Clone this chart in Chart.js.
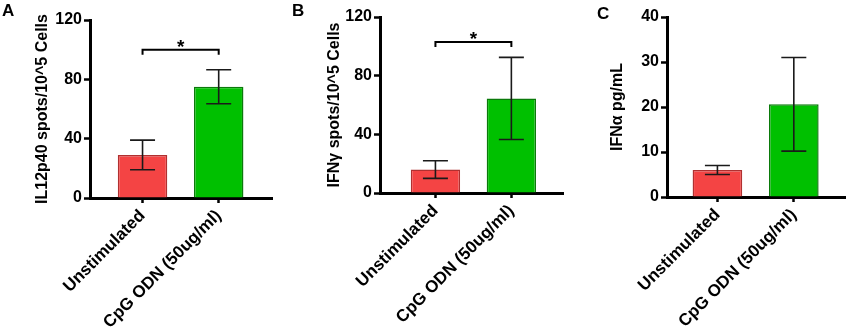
<!DOCTYPE html>
<html>
<head>
<meta charset="utf-8">
<script src="https://cdn.jsdelivr.net/npm/chart.js@4.4.1/dist/chart.umd.min.js"></script>
<style>
  html, body { margin:0; padding:0; background:#fff; }
  body { width:850px; height:332px; position:relative; overflow:hidden; font-family:"Liberation Sans", Arial, sans-serif; }
  .panel { position:absolute; top:0; }
  .letter { position:absolute; font-weight:bold; font-size:17px; color:#000; }
</style>
</head>
<body>
<div class="panel" style="left:0"><canvas id="chartA" width="285" height="332"></canvas></div>
<div class="panel" style="left:290px"><canvas id="chartB" width="280" height="332"></canvas></div>
<div class="panel" style="left:570px"><canvas id="chartC" width="280" height="332"></canvas></div>
<div class="letter" style="left:2px;top:1px">A</div>
<div class="letter" style="left:292px;top:1px">B</div>
<div class="letter" style="left:597px;top:4px">C</div>
<script>
// shared categories
const categories = ['Unstimulated', 'CpG ODN (50ug/ml)'];

// panel A - IL12p40
const il12Means = [29, 75];
const il12Errors = [10, 11.5];
const il12Max = 120, il12Step = 40, il12Bracket = 100;

// panel B - IFNg
const ifngMeans = [16, 64.5];
const ifngErrors = [6, 28];
const ifngMax = 120, ifngStep = 40, ifngBracket = 103;

// panel C - IFNa
const ifnaMeans = [6, 20.6];
const ifnaErrors = [1, 10.4];
const ifnaMax = 40, ifnaStep = 10;

const FONT = '"Liberation Sans", Arial, sans-serif';

// error bars + significance bracket, all through the chart's own scales
const extras = {
  id: 'extras',
  afterDatasetsDraw(chart, args, opts) {
    const ctx = chart.ctx, y = chart.scales.y;
    const bars = chart.getDatasetMeta(0).data;
    ctx.save();
    ctx.strokeStyle = '#1a1a1a';
    ctx.lineWidth = 1.6;
    bars.forEach((b, i) => {
      const m = opts.means[i], e = opts.errors[i];
      const top = y.getPixelForValue(m + e), bot = y.getPixelForValue(m - e);
      ctx.beginPath();
      ctx.moveTo(b.x, top); ctx.lineTo(b.x, bot);
      ctx.moveTo(b.x - 12.5, top); ctx.lineTo(b.x + 12.5, top);
      ctx.moveTo(b.x - 12.5, bot); ctx.lineTo(b.x + 12.5, bot);
      ctx.stroke();
    });
    if (opts.bracket != null) {
      const by = y.getPixelForValue(opts.bracket);
      const x0 = bars[0].x, x1 = bars[1].x;
      ctx.lineWidth = 2;
      ctx.strokeStyle = '#000';
      ctx.beginPath();
      ctx.moveTo(x0, by + 5); ctx.lineTo(x0, by); ctx.lineTo(x1, by); ctx.lineTo(x1, by + 5);
      ctx.stroke();
      ctx.fillStyle = '#000';
      ctx.font = 'bold 19px ' + FONT;
      ctx.textAlign = 'center';
      ctx.textBaseline = 'alphabetic';
      ctx.fillText('*', (x0 + x1) / 2, by + 3);
    }
    ctx.restore();
  }
};

function makeChart(id, cfg) {
  return new Chart(document.getElementById(id), {
    type: 'bar',
    data: {
      datasets: [{
        data: cfg.means.map((v, i) => ({ x: i, y: v })),
        backgroundColor: ['#f44444', '#00c000'],
        borderColor: ['#b03030', '#0a7a0a'],
        borderWidth: 1.5,
        barPercentage: 0.65,
        categoryPercentage: 1
      }]
    },
    options: {
      responsive: false,
      devicePixelRatio: 1,
      animation: false,
      layout: { padding: { top: cfg.padTop, right: cfg.padRight, left: 0, bottom: 0 } },
      plugins: {
        legend: { display: false },
        tooltip: { enabled: false },
        extras: { means: cfg.means, errors: cfg.errors, bracket: cfg.bracket }
      },
      scales: {
        x: {
          type: 'linear',
          offset: false,
          min: cfg.xMin, max: cfg.xMax,
          afterBuildTicks: s => { s.ticks = categories.map((c, i) => ({ value: i })); },
          afterFit: s => { s.height = cfg.xHeight; },
          border: { color: '#000', width: 3 },
          grid: { offset: false, drawOnChartArea: false, drawTicks: true, tickLength: 5, tickWidth: 2.5, tickColor: '#000' },
          ticks: {
            autoSkip: false, maxRotation: 45, minRotation: 45, padding: 3,
            color: '#000', font: { family: FONT, size: 17, weight: 'bold' },
            callback: v => categories[v]
          }
        },
        y: {
          min: 0, max: cfg.yMax,
          afterFit: s => { s.width = cfg.yWidth; },
          border: { color: '#000', width: 3 },
          grid: { drawOnChartArea: false, drawTicks: true, tickLength: 6, tickWidth: 2.5, tickColor: '#000' },
          ticks: { stepSize: cfg.yStep, padding: 2, color: '#000', font: { family: FONT, size: 16, weight: 'bold' } },
          title: {
            display: true, text: cfg.title, color: '#000',
            font: { family: FONT, size: 16, weight: 'bold' },
            padding: { top: cfg.titlePad, bottom: 0 }
          }
        }
      }
    },
    plugins: [extras]
  });
}

makeChart('chartA', {
  means: il12Means, errors: il12Errors, bracket: il12Bracket,
  yMax: il12Max, yStep: il12Step, title: 'IL12p40 spots/10^5 Cells',
  xMin: -0.69, xMax: 1.70, padTop: 20, padRight: 13, xHeight: 134, yWidth: 90, titlePad: 33
});
makeChart('chartB', {
  means: ifngMeans, errors: ifngErrors, bracket: ifngBracket,
  yMax: ifngMax, yStep: ifngStep, title: 'IFN\u03b3 spots/10^5 Cells',
  xMin: -0.73, xMax: 1.68, padTop: 17, padRight: 7, xHeight: 139, yWidth: 90, titlePad: 35
});
makeChart('chartC', {
  means: ifnaMeans, errors: ifnaErrors, bracket: null,
  yMax: ifnaMax, yStep: ifnaStep, title: 'IFN\u03b1 pg/mL',
  xMin: -0.66, xMax: 1.67, padTop: 17, padRight: 5, xHeight: 135, yWidth: 97, titlePad: 38
});
</script>
</body>
</html>
